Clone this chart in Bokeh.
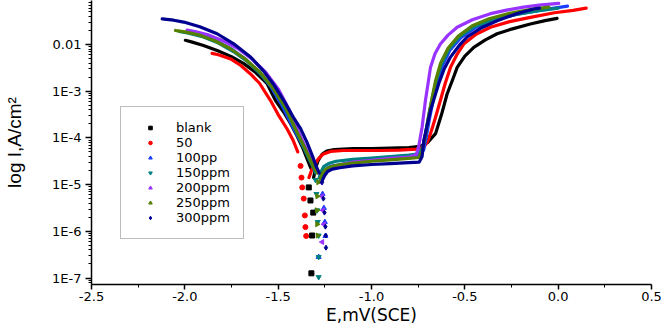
import math
import numpy as np
from bokeh.plotting import figure
from bokeh.models import Range1d, FixedTicker, CustomJSTickFormatter, NumeralTickFormatter, Legend, LegendItem
from bokeh.embed import file_html
from bokeh.resources import INLINE

# ---------------- data (E in V vs SCE, log10 of current density in A/cm2) ----------------
series_labels = ["blank", "50", "100pp", "150ppm", "200ppm", "250ppm", "300ppm"]
series_colors = ["#000000", "#ff0000", "#1a3cff", "#008080", "#9933ff", "#558000", "#000090"]
series_markers = ["square", "circle", "triangle", "inverted_triangle", "triangle", "triangle", "diamond"]
series_angles = [0.0, 0.0, 0.0, 0.0, math.pi / 2, -math.pi / 2, 0.0]

# cathodic branches
blank_cath_E = [-1.997, -1.96, -1.90, -1.827, -1.75, -1.684, -1.62, -1.559, -1.514, -1.47, -1.434, -1.40, -1.37, -1.345, -1.325]
blank_cath_logI = [-1.91, -1.95, -2.02, -2.13, -2.26, -2.41, -2.60, -2.84, -3.20, -3.45, -3.69, -3.95, -4.20, -4.45, -4.65]
c50_cath_E = [-1.854, -1.82, -1.755, -1.70, -1.648, -1.60, -1.541, -1.50, -1.452, -1.42, -1.395]
c50_cath_logI = [-2.19, -2.22, -2.31, -2.45, -2.63, -2.83, -3.20, -3.50, -3.81, -4.05, -4.30]
c100_cath_E = [-1.95, -1.90, -1.83, -1.75, -1.67, -1.60, -1.54, -1.48, -1.416, -1.37, -1.33, -1.30, -1.285]
c100_cath_logI = [-1.76, -1.82, -1.93, -2.10, -2.33, -2.60, -2.90, -3.30, -3.81, -4.15, -4.45, -4.65, -4.75]
c150_cath_E = [-2.03, -1.98, -1.90, -1.82, -1.74, -1.66, -1.59, -1.52, -1.46, -1.41, -1.37, -1.335, -1.31, -1.30]
c150_cath_logI = [-1.72, -1.76, -1.84, -1.97, -2.15, -2.38, -2.65, -2.98, -3.38, -3.80, -4.15, -4.45, -4.65, -4.75]
c200_cath_E = [-1.988, -1.94, -1.87, -1.79, -1.71, -1.64, -1.57, -1.50, -1.44, -1.398, -1.36, -1.325, -1.30, -1.285]
c200_cath_logI = [-1.69, -1.73, -1.80, -1.93, -2.10, -2.31, -2.58, -2.95, -3.40, -3.81, -4.15, -4.45, -4.65, -4.75]
c250_cath_E = [-2.05, -2.00, -1.92, -1.84, -1.76, -1.68, -1.60, -1.53, -1.46, -1.407, -1.365, -1.33, -1.305, -1.29]
c250_cath_logI = [-1.70, -1.73, -1.80, -1.92, -2.08, -2.30, -2.58, -2.92, -3.35, -3.81, -4.15, -4.45, -4.65, -4.75]
c300_cath_E = [-2.121, -2.06, -2.006, -1.92, -1.827, -1.74, -1.648, -1.58, -1.525, -1.47, -1.42, -1.38, -1.345, -1.315, -1.295, -1.28]
c300_cath_logI = [-1.45, -1.48, -1.52, -1.62, -1.77, -1.98, -2.27, -2.56, -2.85, -3.20, -3.55, -3.80, -4.10, -4.40, -4.62, -4.75]

# scattered points around the corrosion potential
blank_dip_E = [-1.336, -1.327, -1.318, -1.322, -1.312]
blank_dip_logI = [-5.06, -5.34, -6.09, -6.90, -5.60]
c50_dip_E = [-1.38, -1.375, -1.371, -1.363, -1.357, -1.354, -1.35]
c50_dip_logI = [-4.60, -4.85, -5.06, -5.30, -5.66, -5.91, -6.10]
c100_dip_E = [-1.27, -1.262, -1.255, -1.25, -1.247, -1.283]
c100_dip_logI = [-4.90, -5.20, -5.50, -5.80, -6.10, -6.55]
c150_dip_E = [-1.30, -1.295, -1.291, -1.288, -1.283, -1.283, -1.283]
c150_dip_logI = [-4.90, -5.20, -5.55, -5.80, -6.09, -6.55, -6.98]
c200_dip_E = [-1.27, -1.265, -1.26, -1.255, -1.264]
c200_dip_logI = [-4.95, -5.25, -5.55, -5.85, -6.23]
c250_dip_E = [-1.285, -1.29, -1.292, -1.291, -1.288]
c250_dip_logI = [-4.95, -5.25, -5.55, -5.85, -6.09]
c300_dip_E = [-1.265, -1.258, -1.252, -1.247, -1.245, -1.244]
c300_dip_logI = [-4.95, -5.30, -5.60, -5.90, -6.09, -6.35]

# anodic branches
blank_an_E = [-1.31, -1.30, -1.285, -1.265, -1.24, -1.20, -1.10, -1.00, -0.90, -0.80, -0.74, -0.70, -0.657, -0.625, -0.595, -0.565, -0.541, -0.50, -0.452, -0.39, -0.327, -0.25, -0.149, -0.07, -0.006]
blank_an_logI = [-4.85, -4.65, -4.48, -4.35, -4.28, -4.25, -4.23, -4.23, -4.22, -4.21, -4.18, -4.10, -3.91, -3.50, -3.06, -2.75, -2.49, -2.25, -2.06, -1.90, -1.77, -1.67, -1.56, -1.49, -1.44]
c50_an_E = [-1.335, -1.32, -1.30, -1.285, -1.26, -1.22, -1.15, -1.05, -0.95, -0.85, -0.76, -0.72, -0.70, -0.684, -0.66, -0.631, -0.605, -0.577, -0.54, -0.506, -0.44, -0.363, -0.26, -0.149, -0.02, 0.08, 0.15]
c50_an_logI = [-4.85, -4.68, -4.55, -4.45, -4.35, -4.29, -4.27, -4.27, -4.27, -4.26, -4.24, -4.20, -4.08, -3.91, -3.60, -3.20, -2.83, -2.49, -2.20, -1.99, -1.78, -1.63, -1.51, -1.42, -1.32, -1.27, -1.22]
c100_an_E = [-1.265, -1.255, -1.24, -1.22, -1.18, -1.10, -1.00, -0.90, -0.80, -0.74, -0.72, -0.705, -0.69, -0.67, -0.65, -0.62, -0.58, -0.52, -0.44, -0.34, -0.22, -0.10, 0.05]
c100_an_logI = [-4.85, -4.75, -4.66, -4.61, -4.58, -4.52, -4.47, -4.44, -4.41, -4.38, -4.25, -3.95, -3.60, -3.20, -2.85, -2.45, -2.12, -1.85, -1.63, -1.47, -1.35, -1.27, -1.18]
c150_an_E = [-1.28, -1.27, -1.255, -1.23, -1.19, -1.10, -1.00, -0.90, -0.80, -0.745, -0.725, -0.71, -0.695, -0.675, -0.655, -0.625, -0.585, -0.53, -0.45, -0.35, -0.23, -0.11, 0.0]
c150_an_logI = [-4.85, -4.72, -4.61, -4.55, -4.50, -4.46, -4.43, -4.40, -4.37, -4.34, -4.20, -3.90, -3.55, -3.15, -2.80, -2.42, -2.10, -1.84, -1.62, -1.47, -1.36, -1.28, -1.22]
c200_an_E = [-1.268, -1.258, -1.24, -1.21, -1.17, -1.10, -1.00, -0.90, -0.80, -0.76, -0.748, -0.729, -0.711, -0.684, -0.66, -0.631, -0.59, -0.541, -0.46, -0.363, -0.27, -0.185, -0.09, 0.003]
c200_an_logI = [-4.88, -4.78, -4.69, -4.63, -4.58, -4.52, -4.48, -4.44, -4.41, -4.36, -4.20, -3.77, -3.20, -2.49, -2.20, -1.99, -1.80, -1.63, -1.47, -1.34, -1.26, -1.20, -1.15, -1.12]
c250_an_E = [-1.275, -1.262, -1.245, -1.22, -1.18, -1.10, -1.00, -0.90, -0.80, -0.745, -0.728, -0.712, -0.697, -0.678, -0.657, -0.63, -0.59, -0.535, -0.46, -0.37, -0.26, -0.15, -0.05]
c250_an_logI = [-4.88, -4.76, -4.67, -4.62, -4.58, -4.54, -4.50, -4.47, -4.44, -4.42, -4.28, -3.95, -3.60, -3.20, -2.78, -2.40, -2.08, -1.82, -1.60, -1.45, -1.33, -1.25, -1.20]
c300_an_E = [-1.262, -1.25, -1.235, -1.21, -1.17, -1.10, -1.00, -0.90, -0.80, -0.745, -0.729, -0.72, -0.70, -0.684, -0.66, -0.64, -0.61, -0.577, -0.53, -0.488, -0.41, -0.327, -0.23, -0.131, -0.10]
c300_an_logI = [-4.90, -4.80, -4.72, -4.67, -4.64, -4.60, -4.57, -4.55, -4.53, -4.52, -4.40, -4.06, -3.70, -3.41, -3.10, -2.84, -2.52, -2.27, -2.02, -1.84, -1.64, -1.49, -1.35, -1.24, -1.22]

x_major_ticks = [-2.5, -2.0, -1.5, -1.0, -0.5, 0.0, 0.5]
x_minor_ticks = [-2.25, -1.75, -1.25, -0.75, -0.25, 0.25]
y_major_ticks = [1e-7, 1e-6, 1e-5, 1e-4, 1e-3, 1e-2]

cath = [(blank_cath_E, blank_cath_logI), (c50_cath_E, c50_cath_logI), (c100_cath_E, c100_cath_logI),
        (c150_cath_E, c150_cath_logI), (c200_cath_E, c200_cath_logI), (c250_cath_E, c250_cath_logI),
        (c300_cath_E, c300_cath_logI)]
dips = [(blank_dip_E, blank_dip_logI), (c50_dip_E, c50_dip_logI), (c100_dip_E, c100_dip_logI),
        (c150_dip_E, c150_dip_logI), (c200_dip_E, c200_dip_logI), (c250_dip_E, c250_dip_logI),
        (c300_dip_E, c300_dip_logI)]
anod = [(blank_an_E, blank_an_logI), (c50_an_E, c50_an_logI), (c100_an_E, c100_an_logI),
        (c150_an_E, c150_an_logI), (c200_an_E, c200_an_logI), (c250_an_E, c250_an_logI),
        (c300_an_E, c300_an_logI)]

# ---------------- figure ----------------
y_lo = 10 ** -7.139
y_hi = 10 ** -1.058

p = figure(output_backend="svg", toolbar_location=None,
           frame_width=560, frame_height=284,
           min_border_left=91, min_border_right=12, min_border_top=0, min_border_bottom=10,
           x_range=Range1d(-2.5, 0.5), y_range=Range1d(y_lo, y_hi),
           y_axis_type="log", background_fill_color="white", border_fill_color="white")
p.outline_line_color = None
p.grid.visible = False

legend_items = []
for i, lab in enumerate(series_labels):
    col = series_colors[i]
    ce, cl = cath[i]
    ae, al = anod[i]
    de, dl = dips[i]
    p.line(ce, 10 ** np.array(cl), line_color=col, line_width=3.2, line_join="round", line_cap="round")
    p.line(ae, 10 ** np.array(al), line_color=col, line_width=3.2, line_join="round", line_cap="round")
    r = p.scatter(de, 10 ** np.array(dl), marker=series_markers[i], size=5,
                  angle=series_angles[i], fill_color=col, line_color=col)
    legend_items.append(LegendItem(label=lab, renderers=[r]))

# axes
xa = p.xaxis[0]
xa.ticker = FixedTicker(ticks=x_major_ticks, minor_ticks=x_minor_ticks)
xa.formatter = NumeralTickFormatter(format="0.0")
xa.axis_label = "E,mV(SCE)"
ya = p.yaxis[0]
ya.ticker = FixedTicker(ticks=y_major_ticks,
                        minor_ticks=[k * 10.0 ** n for n in range(-8, -1) for k in range(2, 10)])
ya.formatter = CustomJSTickFormatter(code="""
const e = Math.round(Math.log10(tick));
return e == -2 ? "0.01" : "1E" + e;
""")
ya.axis_label = "log I,A/cm\u00b2"

for ax in (xa, ya):
    ax.axis_line_color = "black"
    ax.axis_line_width = 1.5
    ax.major_tick_line_color = "black"
    ax.minor_tick_line_color = "black"
    ax.major_tick_line_width = 1.5
    ax.minor_tick_line_width = 1
    ax.major_tick_in = 0
    ax.minor_tick_in = 0
    ax.major_label_text_font = "DejaVu Sans"
    ax.major_label_text_font_size = "13px"
    ax.major_label_text_color = "black"
    ax.axis_label_text_font_style = "normal"
    ax.axis_label_text_color = "black"

xa.major_tick_out = 5
xa.minor_tick_out = 3
xa.major_label_standoff = 2
xa.axis_label_standoff = 1
xa.axis_label_text_font = "DejaVu Sans"
xa.axis_label_text_font_size = "17px"

ya.major_tick_out = 6
ya.minor_tick_out = 3
ya.major_label_standoff = 4
ya.axis_label_standoff = 24
ya.axis_label_text_font = "Liberation Sans"
ya.axis_label_text_font_size = "19px"

legend = Legend(items=legend_items, location=(29, 45))
legend.margin = 0
legend.padding = 13
legend.spacing = 0
legend.label_height = 15
legend.glyph_height = 9
legend.glyph_width = 32
legend.label_standoff = 10
legend.label_text_font = "DejaVu Sans"
legend.label_text_font_size = "13px"
legend.label_text_color = "black"
legend.border_line_color = "#7a7a7a"
legend.border_line_width = 1
legend.background_fill_color = "white"
legend.background_fill_alpha = 1.0
p.add_layout(legend, "center")

open("out.html", "w").write(file_html(p, INLINE))
